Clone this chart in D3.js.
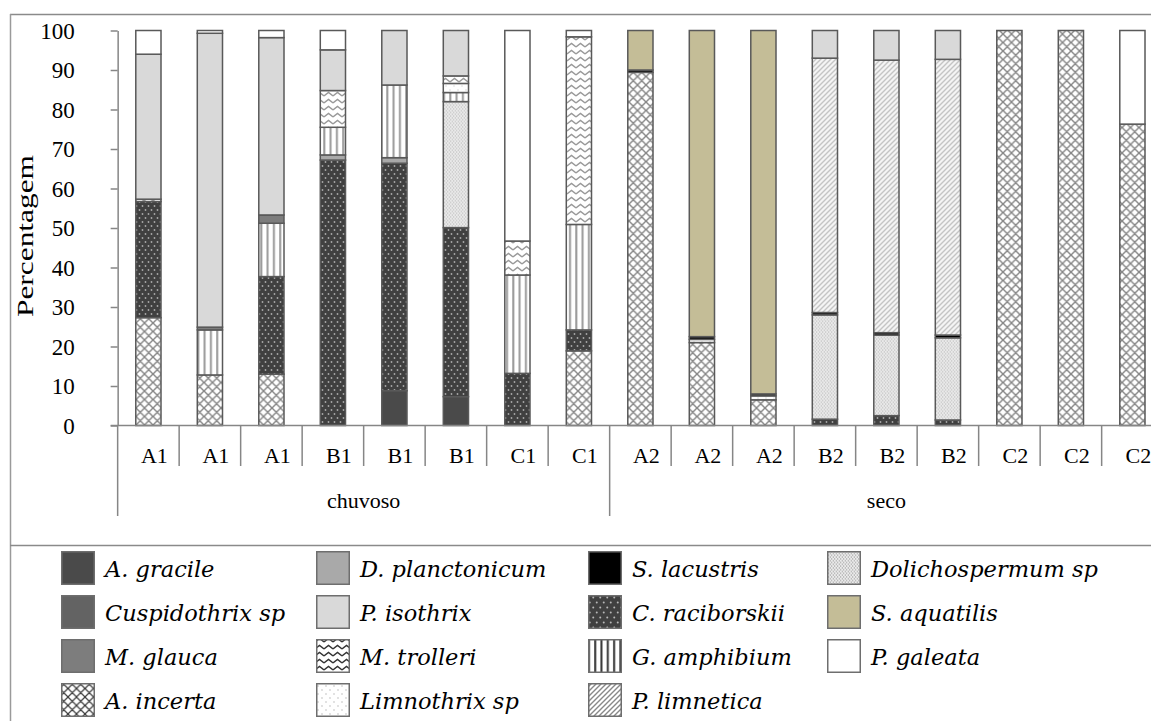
<!DOCTYPE html>
<html>
<head>
<meta charset="utf-8">
<script src="https://cdn.jsdelivr.net/npm/d3@7/dist/d3.min.js"></script>
<style>
  html, body { margin: 0; padding: 0; background: #fff; }
  svg { display: block; }
  .serif { font-family: "Liberation Serif", "Times New Roman", serif; fill: #000; }
  .legend-text { font-family: "DejaVu Serif", serif; font-style: italic; fill: #000; }
</style>
</head>
<body>
<svg id="chart" width="1151" height="721"></svg>
<script>
// ---- Data -----------------------------------------------------------------
const categories = ["A1","A1","A1","B1","B1","B1","C1","C1","A2","A2","A2","B2","B2","B2","C2","C2","C2"];
const seasons = ["chuvoso", "seco"];
const seasonSizes = [8, 9];
const yTicks = [0, 10, 20, 30, 40, 50, 60, 70, 80, 90, 100];

// Percentage of each taxon per sample (one array per taxon)
const aGracile        = [0, 0, 0, 0, 8.8, 7.3, 0, 0, 0, 0, 0, 0, 0, 0, 0, 0, 0];
const aIncerta        = [27.3, 12.8, 13.0, 0, 0, 0, 0, 18.9, 89.4, 21.0, 6.5, 0, 0, 0, 100, 100, 76.3];
const cRaciborskii    = [29.4, 0, 24.7, 67.2, 57.6, 42.8, 13.2, 5.3, 0, 0, 0, 1.6, 2.5, 1.4, 0, 0, 0];
const dPlanctonicum   = [0, 0, 0, 1.3, 1.4, 0, 0, 0, 0, 0, 0, 0, 0, 0, 0, 0, 0];
const cuspidothrix    = [0, 0, 0, 0, 0, 0, 0, 0, 0, 0, 0, 0, 0, 0, 0, 0, 0];
const dolichospermum  = [0, 0, 0, 0, 0, 31.9, 0, 0, 0, 0, 0, 26.4, 20.4, 20.8, 0, 0, 0];
const gAmphibium      = [0, 11.4, 13.5, 7.0, 18.4, 2.3, 24.9, 26.7, 0, 0, 0, 0, 0, 0, 0, 0, 0];
const mGlauca         = [0, 0.7, 2.1, 0, 0, 0, 0, 0, 0, 0, 0, 0, 0, 0, 0, 0, 0];
const limnothrix      = [0, 0, 0, 0, 0, 2.3, 0, 0, 0, 0.8, 1.0, 0, 0, 0, 0, 0, 0];
const mTrolleri       = [0.6, 0, 0, 9.3, 0, 1.9, 8.6, 47.5, 0, 0, 0, 0, 0, 0, 0, 0, 0];
const sLacustris      = [0, 0, 0, 0, 0, 0, 0, 0, 0.6, 0.7, 0.5, 0.6, 0.6, 0.7, 0, 0, 0];
const pLimnetica      = [0, 0, 0, 0, 0, 0, 0, 0, 0, 0, 0, 64.4, 69.0, 69.8, 0, 0, 0];
const pIsothrix       = [36.7, 74.4, 44.9, 10.3, 13.8, 11.5, 0, 0, 0, 0, 0, 7.0, 7.5, 7.3, 0, 0, 0];
const sAquatilis      = [0, 0, 0, 0, 0, 0, 0, 0, 10.0, 77.5, 92.0, 0, 0, 0, 0, 0, 0];
const pGaleata        = [6.0, 0.7, 1.8, 4.9, 0, 0, 53.3, 1.6, 0, 0, 0, 0, 0, 0, 0, 0, 23.7];

// Stacking order, bottom to top
const series = [
  { name: "A. gracile",        values: aGracile,       fill: "aGracile" },
  { name: "A. incerta",        values: aIncerta,       fill: "aIncerta" },
  { name: "C. raciborskii",    values: cRaciborskii,   fill: "cRaciborskii" },
  { name: "D. planctonicum",   values: dPlanctonicum,  fill: "dPlanctonicum" },
  { name: "Cuspidothrix sp",   values: cuspidothrix,   fill: "cuspidothrix" },
  { name: "Dolichospermum sp", values: dolichospermum, fill: "dolichospermum" },
  { name: "G. amphibium",      values: gAmphibium,     fill: "gAmphibium" },
  { name: "M. glauca",         values: mGlauca,        fill: "mGlauca" },
  { name: "Limnothrix sp",     values: limnothrix,     fill: "limnothrix" },
  { name: "M. trolleri",       values: mTrolleri,      fill: "mTrolleri" },
  { name: "S. lacustris",      values: sLacustris,     fill: "sLacustris" },
  { name: "P. limnetica",      values: pLimnetica,     fill: "pLimnetica" },
  { name: "P. isothrix",       values: pIsothrix,      fill: "pIsothrix" },
  { name: "S. aquatilis",      values: sAquatilis,     fill: "sAquatilis" },
  { name: "P. galeata",        values: pGaleata,       fill: "pGaleata" }
];

// Legend layout: columns of taxon names
const legendColumns = [
  ["A. gracile", "Cuspidothrix sp", "M. glauca", "A. incerta"],
  ["D. planctonicum", "P. isothrix", "M. trolleri", "Limnothrix sp"],
  ["S. lacustris", "C. raciborskii", "G. amphibium", "P. limnetica"],
  ["Dolichospermum sp", "S. aquatilis", "P. galeata"]
];

// ---- Setup ----------------------------------------------------------------
const svg = d3.select("#chart");
const axisColor = "#868686";
const barStroke = "#595959";

const plotLeft = 117.65;
const band = 61.5;
const x = d3.scaleBand()
  .domain(d3.range(categories.length))
  .range([plotLeft, plotLeft + band * categories.length])
  .paddingInner(0.59)
  .paddingOuter(0.295);
const y = d3.scaleLinear().domain([0, 100]).range([425.5, 30.5]);

// ---- Fill patterns ----------------------------------------------------------
const defs = svg.append("defs");
function solid(id, color) {
  const p = defs.append("pattern").attr("id", id).attr("patternUnits", "userSpaceOnUse")
    .attr("width", 4).attr("height", 4);
  p.append("rect").attr("width", 4).attr("height", 4).attr("fill", color);
}
function crosshatch(id, color, w) {
  const s = 8.5;
  const p = defs.append("pattern").attr("id", id).attr("patternUnits", "userSpaceOnUse")
    .attr("width", s).attr("height", s);
  p.append("rect").attr("width", s).attr("height", s).attr("fill", "#fff");
  p.append("path").attr("d", `M0,0L${s},${s}M${s},0L0,${s}M${-s/2},${s/2}L0,${s}M${s},0L${s*1.5},${s/2}`)
    .attr("stroke", color).attr("stroke-width", w).attr("fill", "none");
}
function dots(id, bg, color, sx, sy, r) {
  const p = defs.append("pattern").attr("id", id).attr("patternUnits", "userSpaceOnUse")
    .attr("width", sx).attr("height", sy * 2);
  p.append("rect").attr("width", sx).attr("height", sy * 2).attr("fill", bg);
  p.append("circle").attr("cx", sx * 0.25).attr("cy", sy * 0.5).attr("r", r).attr("fill", color);
  p.append("circle").attr("cx", sx * 0.75).attr("cy", sy * 1.5).attr("r", r).attr("fill", color);
}
function vlines(id, color) {
  const p = defs.append("pattern").attr("id", id).attr("patternUnits", "userSpaceOnUse")
    .attr("width", 6.3).attr("height", 4);
  p.append("rect").attr("width", 6.3).attr("height", 4).attr("fill", "#fff");
  p.append("rect").attr("x", 2).attr("width", 2).attr("height", 4).attr("fill", color);
}
function diagonal(id, bg, color) {
  const s = 5;
  const p = defs.append("pattern").attr("id", id).attr("patternUnits", "userSpaceOnUse")
    .attr("width", s).attr("height", s);
  p.append("rect").attr("width", s).attr("height", s).attr("fill", bg);
  p.append("path").attr("d", `M0,${s}L${s},0M${-s/2},${s/2}L${s/2},${-s/2}M${s/2},${s*1.5}L${s*1.5},${s/2}`)
    .attr("stroke", color).attr("stroke-width", 1.4);
}
function waves(id, color) {
  const w = 9, h = 7;
  const p = defs.append("pattern").attr("id", id).attr("patternUnits", "userSpaceOnUse")
    .attr("width", w).attr("height", h);
  p.append("rect").attr("width", w).attr("height", h).attr("fill", "#fff");
  p.append("path").attr("d", `M0,${h*0.7}L${w/2},${h*0.2}L${w},${h*0.7}`)
    .attr("stroke", color).attr("stroke-width", 1.3).attr("fill", "none");
}

solid("aGracile", "#4a4a4a");
crosshatch("aIncerta", "#858585", 1.4);
dots("cRaciborskii", "#404040", "#a8a8a8", 6, 4, 0.9);
solid("dPlanctonicum", "#a9a9a9");
solid("cuspidothrix", "#636363");
dots("dolichospermum", "#eaeaea", "#b4b4b4", 3, 1.8, 0.6);
vlines("gAmphibium", "#999999");
solid("mGlauca", "#7d7d7d");
dots("limnothrix", "#ffffff", "#d0d0d0", 8, 4, 0.7);
waves("mTrolleri", "#999999");
solid("sLacustris", "#000000");
diagonal("pLimnetica", "#f4f4f4", "#c4c4c4");
solid("pIsothrix", "#d9d9d9");
solid("sAquatilis", "#c4bd97");
solid("pGaleata", "#ffffff");
// darker variants for the legend keys
crosshatch("aIncertaKey", "#3a3a3a", 1.2);
waves("mTrolleriKey", "#333333");
vlines("gAmphibiumKey", "#333333");
diagonal("pLimneticaKey", "#ffffff", "#888888");
dots("limnothrixKey", "#ffffff", "#b0b0b0", 8, 4, 0.7);
dots("dolichospermumKey", "#ececec", "#8a8a8a", 3, 1.8, 0.6);
dots("cRaciborskiiKey", "#404040", "#b8b8b8", 7, 5, 1);
const keyFill = {
  "A. incerta": "aIncertaKey", "M. trolleri": "mTrolleriKey", "G. amphibium": "gAmphibiumKey",
  "P. limnetica": "pLimneticaKey", "Limnothrix sp": "limnothrixKey",
  "Dolichospermum sp": "dolichospermumKey", "C. raciborskii": "cRaciborskiiKey"
};

// ---- Frame ------------------------------------------------------------------
svg.append("line").attr("x1", 10).attr("x2", 1151).attr("y1", 14.5).attr("y2", 14.5)
  .attr("stroke", "#8a8a8a").attr("stroke-width", 1.5);
svg.append("line").attr("x1", 10.5).attr("x2", 10.5).attr("y1", 14).attr("y2", 721)
  .attr("stroke", "#9a9a9a").attr("stroke-width", 1.5);
svg.append("line").attr("x1", 10).attr("x2", 1151).attr("y1", 545.5).attr("y2", 545.5)
  .attr("stroke", "#8a8a8a").attr("stroke-width", 1.5);

// ---- Bars ---------------------------------------------------------------------
const rows = categories.map((c, i) => {
  const r = { i };
  series.forEach(s => { r[s.name] = s.values[i]; });
  return r;
});
const stacked = d3.stack().keys(series.map(s => s.name))(rows);

const barG = svg.append("g");
stacked.forEach((layer, k) => {
  barG.append("g")
    .selectAll("rect")
    .data(layer.filter(d => d[1] - d[0] > 0))
    .join("rect")
    .attr("x", d => x(d.data.i))
    .attr("width", x.bandwidth())
    .attr("y", d => y(d[1]))
    .attr("height", d => y(d[0]) - y(d[1]))
    .attr("fill", `url(#${series[k].fill})`)
    .attr("stroke", barStroke)
    .attr("stroke-width", 1.5);
});

// ---- Y axis -------------------------------------------------------------------
const yAxis = svg.append("g")
  .attr("transform", `translate(${plotLeft},0)`)
  .call(d3.axisLeft(y).tickValues(yTicks).tickSize(7).tickPadding(36).tickSizeOuter(0));
yAxis.select(".domain").attr("stroke", axisColor).attr("stroke-width", 1.5);
yAxis.selectAll(".tick line").attr("stroke", axisColor).attr("stroke-width", 1.5);
yAxis.selectAll(".tick text")
  .attr("class", "serif").style("font-size", "23px").attr("fill", "#000").attr("dy", "0.33em");

svg.append("text")
  .attr("class", "serif")
  .attr("transform", "translate(33,236) rotate(-90)")
  .attr("text-anchor", "middle")
  .attr("textLength", 162).attr("lengthAdjust", "spacingAndGlyphs")
  .style("font-size", "23px")
  .text("Percentagem");

// ---- X axis (two-level categories) ---------------------------------------------
svg.append("line")
  .attr("x1", plotLeft - 7).attr("x2", 1151).attr("y1", y(0)).attr("y2", y(0))
  .attr("stroke", axisColor).attr("stroke-width", 1.5);

const boundaries = d3.range(categories.length + 1).map(i => plotLeft + i * band);
const groupStarts = [0];
seasonSizes.forEach((n, k) => groupStarts.push(groupStarts[k] + n));
svg.append("g").selectAll("line")
  .data(boundaries.map((bx, i) => ({ bx, long: groupStarts.includes(i) })))
  .join("line")
  .attr("x1", d => d.bx).attr("x2", d => d.bx)
  .attr("y1", y(0)).attr("y2", d => d.long ? 516 : 466)
  .attr("stroke", axisColor).attr("stroke-width", 1.5);

svg.append("g").selectAll("text")
  .data(categories)
  .join("text")
  .attr("class", "serif")
  .attr("x", (d, i) => x(i) + x.bandwidth() / 2 + 6)
  .attr("y", 463)
  .attr("text-anchor", "middle")
  .style("font-size", "22px")
  .text(d => d);

svg.append("g").selectAll("text")
  .data(seasons)
  .join("text")
  .attr("class", "serif")
  .attr("x", (d, k) => (boundaries[groupStarts[k]] + boundaries[groupStarts[k + 1]]) / 2)
  .attr("y", 508)
  .attr("text-anchor", "middle")
  .style("font-size", "22px")
  .text(d => d);

// ---- Legend -------------------------------------------------------------------
const legendX = [61, 316, 588, 827];
const legendTop = 551, legendStep = 44, key = 34;
const fillOf = Object.fromEntries(series.map(s => [s.name, s.fill]));
legendColumns.forEach((col, c) => {
  const g = svg.append("g");
  col.forEach((name, r) => {
    const top = legendTop + r * legendStep;
    g.append("rect")
      .attr("x", legendX[c] + 0.75).attr("y", top + 0.75)
      .attr("width", key - 1.5).attr("height", key - 1.5)
      .attr("fill", `url(#${keyFill[name] || fillOf[name]})`)
      .attr("stroke", "#6e6e6e").attr("stroke-width", 1.5);
    g.append("text")
      .attr("class", "legend-text")
      .attr("x", legendX[c] + 44)
      .attr("y", top + 26)
      .style("font-size", "22.5px")
      .text(name);
  });
});
</script>
</body>
</html>
